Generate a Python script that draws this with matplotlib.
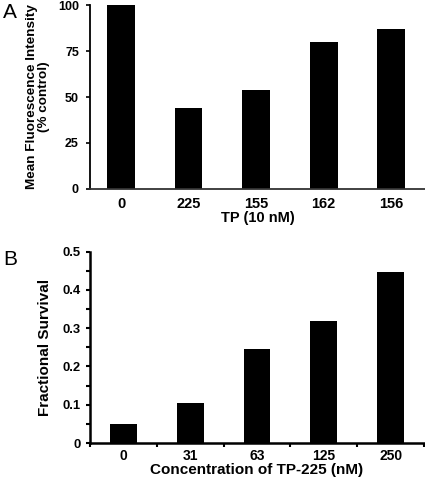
import matplotlib
matplotlib.use("Agg")
import matplotlib.pyplot as plt
from matplotlib.ticker import MultipleLocator

plt.rcParams['font.family'] = ['Liberation Sans', 'DejaVu Sans']

# Panel A data
a_categories = ['0', '225', '155', '162', '156']
a_values = [100, 44, 54, 80, 87]
a_yticks = [0, 25, 50, 75, 100]

# Panel B data
b_categories = ['0', '31', '63', '125', '250']
b_values = [0.050, 0.104, 0.246, 0.320, 0.448]
b_yticks = [0, 0.1, 0.2, 0.3, 0.4, 0.5]

fig = plt.figure(figsize=(4.25, 4.82), dpi=100)

# ---- Panel A ----
axA = fig.add_axes([90/425, 1-189/482, 335/425, 184/482])
xa = list(range(len(a_categories)))
axA.bar(xa, a_values, width=0.41, color='black')
axA.set_xlim(-0.46, 4.5)
axA.set_ylim(0, 100)
axA.set_yticks(a_yticks)
axA.set_yticklabels([str(v) for v in a_yticks], fontsize=9, fontweight='bold')
axA.set_xticks(xa)
axA.set_xticklabels(a_categories, fontsize=10.5, fontweight='bold')
axA.tick_params(axis='x', length=0, pad=6)
axA.tick_params(axis='y', length=3, width=1.2, direction='out', pad=5)
for s in ['top', 'right']:
    axA.spines[s].set_visible(False)
axA.spines['left'].set_linewidth(1.3)
axA.spines['bottom'].set_linewidth(1.3)
axA.spines['bottom'].set_color('#333333')
axA.set_ylabel('Mean Fluorescence Intensity\n(% control)', fontsize=9.7,
               fontweight='bold', labelpad=6, linespacing=1.0)
axA.set_xlabel('TP (10 nM)', fontsize=10.5, fontweight='bold', labelpad=0)
fig.text(3/425, 1-3/482, 'A', fontsize=15, va='top', ha='left')

# ---- Panel B ----
axB = fig.add_axes([90/425, 1-443/482, 334/425, 191.3/482])
xb = list(range(len(b_categories)))
axB.bar(xb, b_values, width=0.4, color='black')
axB.set_xlim(-0.5, 4.5)
axB.set_ylim(0, 0.5)
axB.set_yticks(b_yticks)
axB.set_yticklabels(['0'] + [f'{v:.1f}' for v in b_yticks[1:]], fontsize=9.4, fontweight='bold')
axB.yaxis.set_minor_locator(MultipleLocator(0.05))
axB.set_xticks([i - 0.5 for i in range(len(b_categories) + 1)])
axB.set_xticks(xb, minor=True)
axB.set_xticklabels([])
axB.set_xticklabels(b_categories, minor=True, fontsize=10, fontweight='bold')
axB.tick_params(axis='x', which='major', length=3, width=1.5, direction='out')
axB.tick_params(axis='x', which='minor', length=0, pad=4)
axB.tick_params(axis='y', which='major', length=3, width=1.5, direction='out', pad=4)
axB.tick_params(axis='y', which='minor', length=3, width=1.5, direction='out')
for s in ['top', 'right']:
    axB.spines[s].set_visible(False)
axB.spines['left'].set_linewidth(1.8)
axB.spines['bottom'].set_linewidth(1.8)
axB.set_ylabel('Fractional Survival', fontsize=11, fontweight='bold', labelpad=7)
axB.set_xlabel('Concentration of TP-225 (nM)', fontsize=11, fontweight='bold', labelpad=0)
fig.text(3/425, 1-250/482, 'B', fontsize=15, va='top', ha='left')

fig.savefig('out.png', dpi=100)
